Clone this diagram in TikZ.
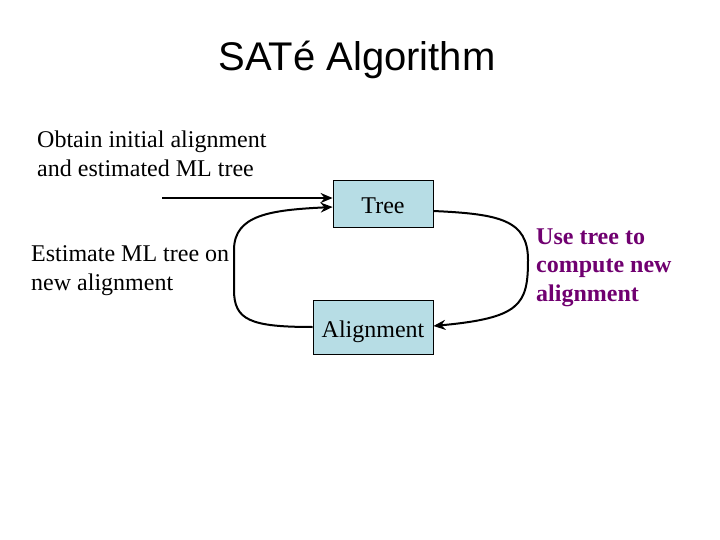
\documentclass[tikz,border=0pt]{standalone}
\usepackage{fontspec}
\setmainfont{Liberation Serif}
\newfontfamily\titlefont{Liberation Sans}
\usetikzlibrary{arrows.meta}
\definecolor{boxfill}{RGB}{183,221,229}
\definecolor{purpletext}{RGB}{112,0,112}
\begin{document}
\begin{tikzpicture}[x=1pt,y=-1pt,
  box/.style={draw=black,line width=0.8pt,fill=boxfill,inner sep=0pt,text height=20pt,text depth=0pt,font=\fontsize{24}{29}\selectfont},
  lbl/.style={inner sep=0pt,align=left,anchor=west,font=\fontsize{24}{29}\selectfont},
  conn/.style={line width=2pt,-{Stealth[length=12pt,width=10pt]}}]
\useasboundingbox (0,0) rectangle (720,540);
\node[font=\titlefont\fontsize{40}{48}\selectfont] (title) at (357,60) {SATé Algorithm};
\node[lbl] (obtain) at (37,154) {Obtain initial alignment\\and estimated ML tree};
\node[lbl] (estimate) at (31,271) {Estimate ML tree on\\new alignment};
\node[lbl,text=purpletext,font=\fontsize{24}{28.5}\bfseries\selectfont] (use) at (536,267.5) {Use tree to\\compute new\\alignment};
\node[box,minimum width=100pt,minimum height=47pt] (tree) at (383,203.5) {Tree};
\node[box,minimum width=120pt,minimum height=54pt] (align) at (373,327) {Alignment};
\coordinate (start) at (162,198);
\draw[conn] (start) -- (tree.west |- start);
\draw[conn] (align.west) .. controls (250,327) and (234,320) .. (234,290)
  -- (234,250) .. controls (234,215) and (270,210) .. (tree.west |- 0,207);
\draw[conn] (tree.east |- 0,211) .. controls (500,214) and (528,220) .. (528,260)
  .. controls (528,305) and (520,318) .. (align.east |- 0,326);
\end{tikzpicture}
\end{document}
